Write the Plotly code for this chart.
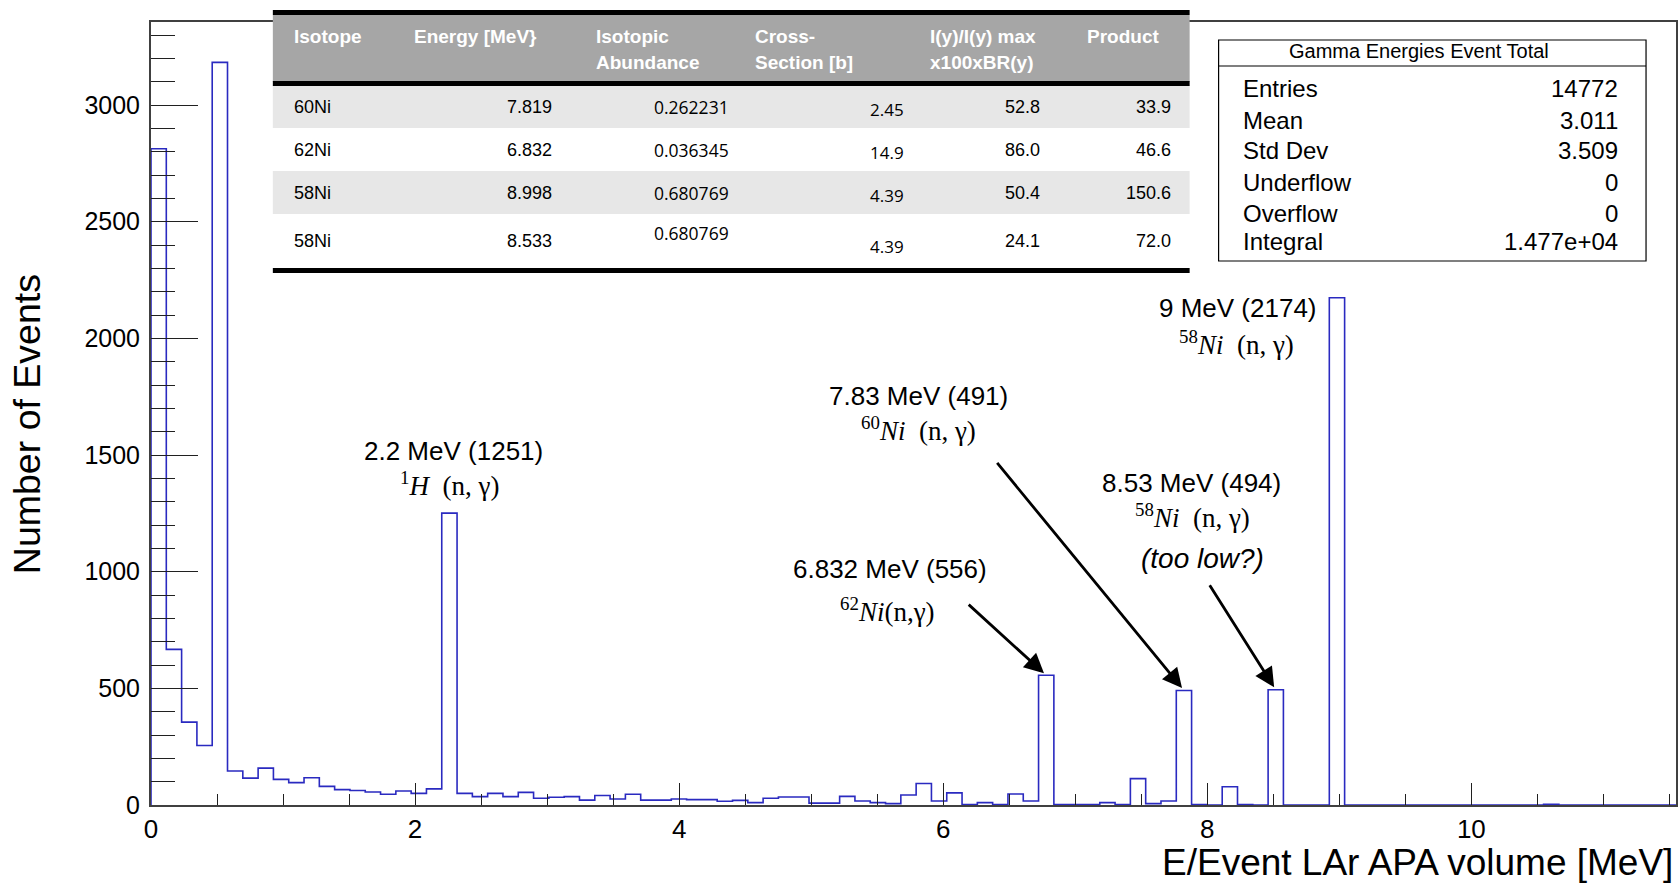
import plotly.graph_objects as go

# ---------------- data ----------------
bin_width = 0.1159
counts = [2813, 667, 355, 255, 3183, 146, 115, 158, 110, 96,
          117, 80, 66, 62, 56, 46, 60, 50, 69, 1251,
          50, 36, 50, 36, 54, 29, 33, 36, 21, 41,
          26, 46, 21, 21, 26, 23, 23, 16, 20, 10,
          29, 34, 34, 8, 8, 37, 17, 10, 6, 43,
          92, 17, 52, 2, 10, 2, 47, 17, 556, 2,
          2, 2, 10, 2, 113, 6, 17, 491, 2, 0,
          78, 2, 0, 494, 0, 0, 0, 2174, 0, 0,
          0, 0, 0, 0, 0, 0, 0, 0, 0, 0,
          0, 3, 0, 0, 0, 0, 0, 0, 0, 0]
x_range = [0, 11.55]
y_max = 3356

x_title = "E/Event LAr APA volume [MeV]"
y_title = "Number of Events"

# peak annotations
peak_lines = ["2.2 MeV (1251)", "6.832 MeV (556)", "7.83 MeV (491)", "8.53 MeV (494)", "9 MeV (2174)"]
peak_isotopes = ["<sup>1</sup><i>H</i>  (n, γ)", "<sup>62</sup><i>Ni</i>(n,γ)",
                 "<sup>60</sup><i>Ni</i>  (n, γ)", "<sup>58</sup><i>Ni</i>  (n, γ)",
                 "<sup>58</sup><i>Ni</i>  (n, γ)"]
peak_note = "(too low?)"

# table
table_headers = [["Isotope"], ["Energy [MeV}"], ["Isotopic", "Abundance"],
                 ["Cross-", "Section [b]"], ["I(y)/I(y) max", "x100xBR(y)"], ["Product"]]
isotopes = ["60Ni", "62Ni", "58Ni", "58Ni"]
energies = ["7.819", "6.832", "8.998", "8.533"]
abundances = ["0.262231", "0.036345", "0.680769", "0.680769"]
cross_sections = ["2.45", "14.9", "4.39", "4.39"]
intensities = ["52.8", "86.0", "50.4", "24.1"]
products = ["33.9", "46.6", "150.6", "72.0"]

# stats box
stats_title = "Gamma Energies Event Total"
stats_labels = ["Entries", "Mean", "Std Dev", "Underflow", "Overflow", "Integral"]
stats_values = ["14772", "3.011", "3.509", "0", "0", "1.477e+04"]

# ---------------- layout helpers ----------------
W, H = 1678, 888
L, R, T, B = 151, 1678, 22, 805
SANS = "Liberation Sans, Arial, Helvetica, sans-serif"
SERIF = "Liberation Serif, DejaVu Serif, serif"
CALIBRI = "Open Sans, Lato, sans-serif"


def fx(p):
    return (p - L) / (R - L)


def fy(p):
    return (B - p) / (B - T)


edges = [i * bin_width for i in range(len(counts) + 1)]
xs = [edges[0]] + edges[:-1] + [edges[-1], edges[-1]]
ys = [0] + counts + [counts[-1], 0]

fig = go.Figure()
fig.add_trace(go.Scatter(x=xs, y=ys, mode="lines",
                         line=dict(shape="hv", color="#2a2ac0", width=1.6),
                         hoverinfo="skip", showlegend=False))

annotations = []
shapes = []


def text(x, y, s, size=26, family=SANS, color="black", xanchor="center", yanchor="middle", bold=False):
    if bold:
        s = "<b>" + s + "</b>"
    annotations.append(dict(x=fx(x), y=fy(y), xref="paper", yref="paper", text=s,
                            showarrow=False, xanchor=xanchor, yanchor=yanchor,
                            font=dict(family=family, size=size, color=color)))


# peak labels (pixel positions of label centres)
label_pos = [(454, 451), (891, 569), (920, 396), (1193, 483), (1239, 308)]
iso_pos = [(450, 484), (888, 610), (920, 429), (1194, 516), (1238, 343)]
for (lx, ly), (ix, iy), t1, t2 in zip(label_pos, iso_pos, peak_lines, peak_isotopes):
    text(lx, ly, t1, size=26)
    text(ix, iy, t2, size=27, family=SERIF)
text(1204, 558, "<i>" + peak_note + "</i>", size=28)

# arrows to the three nickel peaks
arrow_bins = [58, 67, 73]
arrow_tails = [(-79, -72), (-188, -229), (-67, -106)]
for b, (ax, ay) in zip(arrow_bins, arrow_tails):
    annotations.append(dict(x=(b + 0.5) * bin_width, y=counts[b], xref="x", yref="y",
                            ax=ax, ay=ay, text="", showarrow=True, arrowhead=2,
                            arrowsize=1.4, arrowwidth=2.8, arrowcolor="black", standoff=3))

# axis titles (ROOT style)
text(1161, 862, x_title, size=37, xanchor="left")
annotations.append(dict(x=fx(27), y=fy(272), xref="paper", yref="paper", text=y_title,
                        textangle=-90, showarrow=False, xanchor="center", yanchor="top",
                        font=dict(family=SANS, size=37.5, color="black")))

# ---------------- table ----------------
tL, tR = 273, 1191


def rect(x0, y0, x1, y1, fill, line_w=0, line_c="black"):
    shapes.append(dict(type="rect", xref="paper", yref="paper",
                       x0=fx(x0), x1=fx(x1), y0=fy(y1), y1=fy(y0),
                       fillcolor=fill, line=dict(width=line_w, color=line_c), layer="above"))


rect(tL, 15, tR, 82, "#a6a6a6")
rect(tL, 85, tR, 128, "#e7e7e7")
rect(tL, 128, tR, 171, "white")
rect(tL, 171, tR, 214, "#e7e7e7")
rect(tL, 214, tR, 268, "white")
rect(tL, 10, tR, 15, "black")
rect(tL, 81, tR, 86, "black")
rect(tL, 268, tR, 273, "black")

head_x = [292, 412, 595, 754, 929, 1086]
for hx, lines in zip(head_x, table_headers):
    for i, ln in enumerate(lines):
        text(hx, 36 + 26 * i, ln, size=19, color="white", xanchor="left", bold=True)

row_y = [107, 150, 193, 241]
for i in range(4):
    y = row_y[i]
    text(292, y, isotopes[i], size=18, xanchor="left")
    text(555, y, energies[i], size=18, xanchor="right")
    text(653, y - (8 if i == 3 else 0), abundances[i], size=17.5, family=CALIBRI, xanchor="left")
    text(907, y + (5 if i == 3 else 2), cross_sections[i], size=17, family=CALIBRI, xanchor="right")
    text(1043, y, intensities[i], size=18, xanchor="right")
    text(1174, y, products[i], size=18, xanchor="right")

# ---------------- stats box ----------------
sL, sR, sT, sB = 1220, 1648, 40, 261
rect(sL, sT, sR, sB, "white", line_w=1.2)
shapes.append(dict(type="line", xref="paper", yref="paper", x0=fx(sL), x1=fx(sR),
                   y0=fy(66), y1=fy(66), line=dict(color="black", width=1.2), layer="above"))
text(1421, 51, stats_title, size=20)
stat_y = [88, 120, 151, 182, 213, 242]
for y, lab, val in zip(stat_y, stats_labels, stats_values):
    text(1242, y, lab, size=24, xanchor="left")
    text(1622, y, val, size=24, xanchor="right")

axis_common = dict(showline=True, linecolor="#404040", linewidth=2, mirror=True,
                   ticks="inside", tickcolor="#202020", tickwidth=1.2,
                   showgrid=False, zeroline=False)

fig.update_layout(
    width=W, height=H, paper_bgcolor="white", plot_bgcolor="white",
    margin=dict(l=L, r=W - R, t=T, b=H - B, pad=0),
    xaxis=dict(range=x_range, dtick=2, tick0=0, ticklen=22, ticklabelstandoff=0,
               tickfont=dict(family=SANS, size=26, color="black"),
               minor=dict(dtick=0.5, tick0=0, ticklen=11, ticks="inside", tickcolor="#202020", tickwidth=1.2),
               **axis_common),
    yaxis=dict(range=[0, y_max], dtick=500, tick0=0, ticklen=47, ticklabelstandoff=4,
               tickfont=dict(family=SANS, size=25, color="black"),
               minor=dict(dtick=100, tick0=0, ticklen=24, ticks="inside", tickcolor="#202020", tickwidth=1.2),
               **axis_common),
    annotations=annotations, shapes=shapes, showlegend=False,
)

fig.write_html("out.html", config={"displayModeBar": False},
               post_script="document.body.style.margin='0';document.body.style.padding='0';")
